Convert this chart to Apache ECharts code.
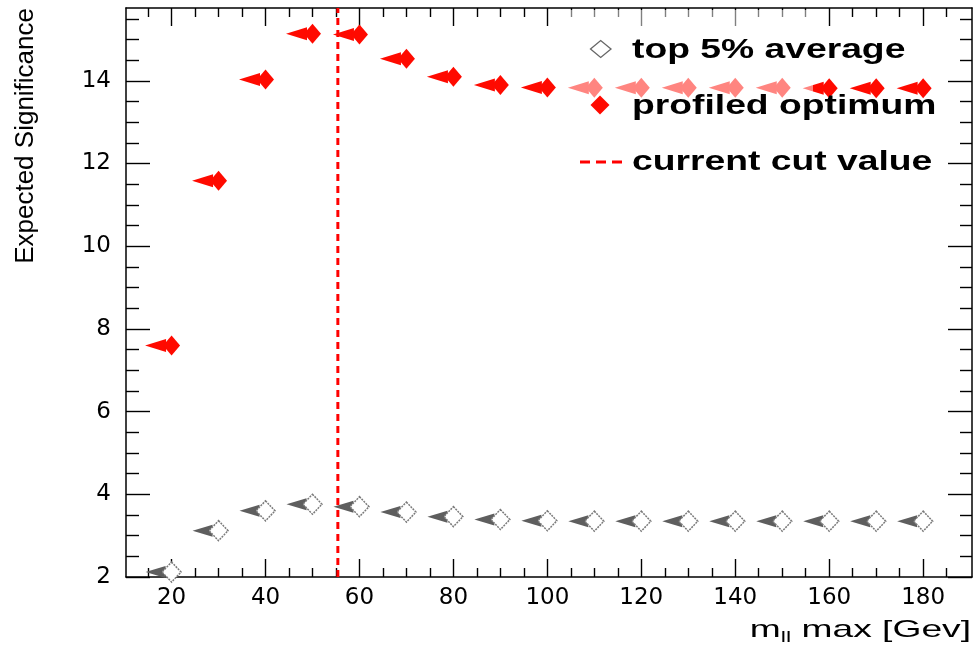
<!DOCTYPE html>
<html><head><meta charset="utf-8">
<script src="https://cdn.jsdelivr.net/npm/echarts@6/dist/echarts.min.js"></script>
<style>html,body{margin:0;padding:0;background:#fff}#c{width:976px;height:662px}</style>
</head><body><div id="c"></div>
<script>
// ---- data ----
const massCuts = [20, 30, 40, 50, 60, 70, 80, 90, 100, 110, 120, 130, 140, 150, 160, 170, 180];
const top5Average = [2.12, 3.12, 3.60, 3.76, 3.70, 3.57, 3.46, 3.39, 3.36, 3.35, 3.35, 3.35, 3.35, 3.35, 3.35, 3.35, 3.35];
const profiledOptimum = [7.60, 11.58, 14.03, 15.14, 15.12, 14.53, 14.10, 13.90, 13.84, 13.83, 13.83, 13.83, 13.83, 13.83, 13.82, 13.82, 13.82];
const cutValue = 55.4;
const xMajorTicks = [20, 40, 60, 80, 100, 120, 140, 160, 180];
const xMinorTicks = [15, 25, 30, 35, 45, 50, 55, 65, 70, 75, 85, 90, 95, 105, 110, 115, 125, 130, 135, 145, 150, 155, 165, 170, 175, 185];
const yMajorTicks = [2, 4, 6, 8, 10, 12, 14];
const yMinorTicks = [2.5, 3, 3.5, 4.5, 5, 5.5, 6.5, 7, 7.5, 8.5, 9, 9.5, 10.5, 11, 11.5, 12.5, 13, 13.5, 14.5, 15, 15.5];
const xRange = [10.3, 190.4];
const yRange = [2, 15.76];

const pairs = ys => massCuts.map((x, i) => [x, ys[i]]);
const lineC = '#000';

function xAx(pos, ticks, len, labels, line) {
  return {
    type: 'value', gridIndex: 0, position: pos, min: xRange[0], max: xRange[1],
    axisLine: { show: line, onZero: false, lineStyle: { color: lineC, width: 1.5 } },
    axisTick: { show: true, inside: true, length: len, customValues: ticks, lineStyle: { color: lineC, width: 1.4 } },
    axisLabel: labels ? { show: true, customValues: ticks, margin: 10, color: '#000', fontFamily: 'DejaVu Sans', fontSize: 23 } : { show: false },
    splitLine: { show: false }
  };
}
function yAx(pos, ticks, len, labels, line) {
  return {
    type: 'value', gridIndex: 0, position: pos, min: yRange[0], max: yRange[1],
    axisLine: { show: line, onZero: false, lineStyle: { color: lineC, width: 1.5 } },
    axisTick: { show: true, inside: true, length: len, customValues: ticks, lineStyle: { color: lineC, width: 1.4 } },
    axisLabel: labels ? { show: true, customValues: ticks, margin: 15, color: '#000', fontFamily: 'DejaVu Sans', fontSize: 23 } : { show: false },
    splitLine: { show: false }
  };
}

const chart = echarts.init(document.getElementById('c'), null, { renderer: 'canvas' });
chart.setOption({
  animation: false,
  backgroundColor: '#fff',
  grid: { left: 126, right: 4, top: 8, bottom: 85, containLabel: false },
  xAxis: [
    xAx('bottom', xMajorTicks, 18, true, true),
    xAx('bottom', xMinorTicks, 9, false, false),
    xAx('top', xMajorTicks, 18, false, true),
    xAx('top', xMinorTicks, 9, false, false)
  ],
  yAxis: [
    yAx('left', yMajorTicks, 24, true, true),
    yAx('left', yMinorTicks, 13, false, false),
    yAx('right', yMajorTicks, 24, false, true),
    yAx('right', yMinorTicks, 12, false, false)
  ],
  series: [
    {
      name: 'current cut value', type: 'line', xAxisIndex: 0, yAxisIndex: 0,
      data: [[cutValue, yRange[0]], [cutValue, yRange[1]]], symbol: 'none',
      lineStyle: { color: '#ff0000', width: 3, type: [7, 5] }, z: 1
    },
    {
      name: 'top 5% average arrow', type: 'scatter', data: pairs(top5Average),
      symbol: 'triangle', symbolSize: [12, 20], symbolRotate: 90, symbolOffset: [-16, 0],
      itemStyle: { color: '#5e5e5e', opacity: 1 }, z: 3
    },
    {
      name: 'top 5% average', type: 'scatter', data: pairs(top5Average),
      symbol: 'diamond', symbolSize: [19, 20],
      itemStyle: { color: '#ffffff', borderColor: '#7a7a7a', borderWidth: 1.5, borderType: [2, 1], opacity: 1 }, z: 4
    },
    {
      name: 'profiled optimum arrow', type: 'scatter', data: pairs(profiledOptimum),
      symbol: 'triangle', symbolSize: [13, 21], symbolRotate: 90, symbolOffset: [-16, 0],
      itemStyle: { color: '#ff0a00', opacity: 1 }, z: 3
    },
    {
      name: 'profiled optimum', type: 'scatter', data: pairs(profiledOptimum),
      symbol: 'diamond', symbolSize: [17, 20],
      itemStyle: { color: '#ff0a00', opacity: 1 }, z: 4
    }
  ],
  graphic: [
    // legend box (hatched fill, lightens what is under it)
    { type: 'rect', shape: { x: 563, y: 10, width: 250, height: 180 }, style: { fill: 'rgba(255,255,255,0.5)' }, z: 50, silent: true },
    // legend entries
    { type: 'polygon', shape: { points: [[590.5, 49], [600.7, 40.5], [611, 49], [600.7, 57.5]] },
      style: { fill: '#fff', stroke: '#666', lineWidth: 1.3 }, z: 60 },
    { type: 'text', x: 632, y: 51, scaleX: 1.38,
      style: { text: 'top 5% average', fontFamily: 'Liberation Sans', fontWeight: 'bold', fontSize: 27, fill: '#000', align: 'left', verticalAlign: 'middle' }, z: 60 },
    { type: 'polygon', shape: { points: [[590.5, 105], [600, 95.5], [609.5, 105], [600, 114.5]] },
      style: { fill: '#ff0a00' }, z: 60 },
    { type: 'text', x: 632, y: 107, scaleX: 1.38,
      style: { text: 'profiled optimum', fontFamily: 'Liberation Sans', fontWeight: 'bold', fontSize: 27, fill: '#000', align: 'left', verticalAlign: 'middle' }, z: 60 },
    { type: 'line', shape: { x1: 580, y1: 162, x2: 624, y2: 162 },
      style: { stroke: '#ff0000', lineWidth: 3, lineDash: [10, 6] }, z: 60 },
    { type: 'text', x: 632, y: 163, scaleX: 1.38,
      style: { text: 'current cut value', fontFamily: 'Liberation Sans', fontWeight: 'bold', fontSize: 27, fill: '#000', align: 'left', verticalAlign: 'middle' }, z: 60 },
    // axis titles
    { type: 'text', x: 26, y: 8, rotation: Math.PI / 2,
      style: { text: 'Expected Significance', fontFamily: 'Liberation Sans', fontSize: 26, fill: '#000', align: 'right', verticalAlign: 'middle' }, z: 60 },
    { type: 'text', x: 971, y: 630, scaleX: 1.55,
      style: { text: '{a|m}{s|ll}{a| max [Gev]}', align: 'right', verticalAlign: 'middle',
        rich: {
          a: { fontFamily: 'Liberation Sans', fontSize: 24, fill: '#000' },
          s: { fontFamily: 'Liberation Sans', fontSize: 15, fill: '#000', padding: [15, 0, 0, 0] }
        } }, z: 60 }
  ]
});
</script>
</body></html>
